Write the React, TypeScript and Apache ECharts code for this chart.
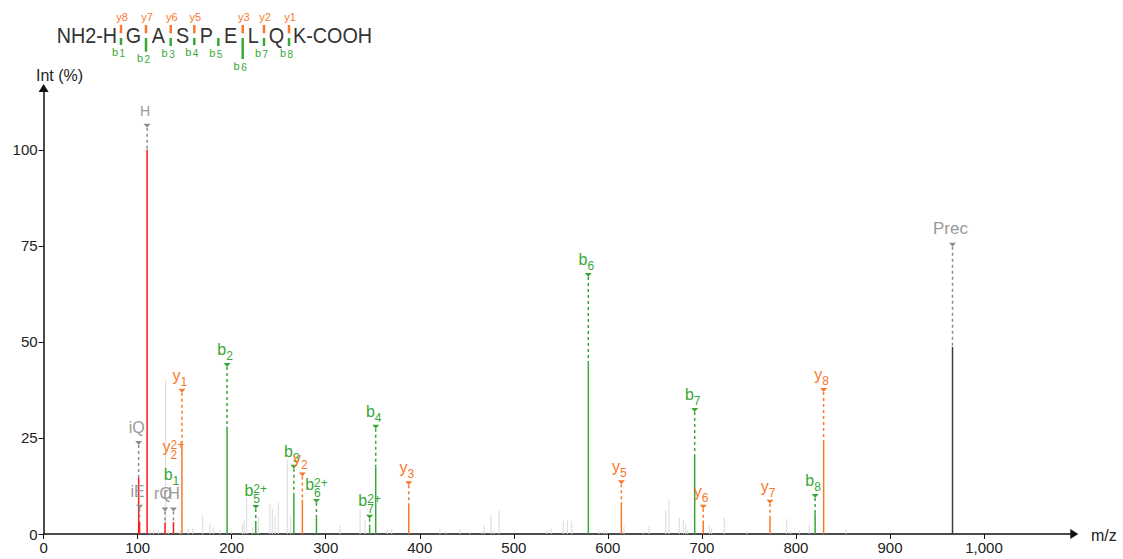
import { useEffect, useRef } from 'react';
import * as echarts from 'echarts';

const FONT = '"Liberation Sans", Arial, Helvetica, sans-serif';
const fnt = (s: number) => `${s}px ${FONT}`;

// ---- peptide sequence header ----
const residues = ['H', 'G', 'A', 'S', 'P', 'E', 'L', 'Q', 'K'];
const nTerm = 'NH2-';
const cTerm = '-COOH';
const seqBLabels = ['1', '2', '3', '4', '5', '6', '7', '8'];
const seqYLabels = ['8', '7', '6', '5', '', '3', '2', '1'];

// ---- axes ----
const xTicks = [0, 100, 200, 300, 400, 500, 600, 700, 800, 900, 1000];
const yTicks = [0, 25, 50, 75, 100];
const xMax = 1096;
const yMax = 116.1;

// ---- unassigned (grey) peaks ----
const noiseMz = [113.1, 116.7, 122.0, 129.8, 132.6, 145.0, 153.9, 158.6, 169.2, 176.9, 180.5, 187.6, 200.0, 211.3, 213.1, 216.0, 222.4, 228.3, 240.7, 243.2, 246.1, 249.6, 259.1, 262.8, 315.2, 336.5, 341.8, 365.5, 370.2, 421.5, 427.9, 442.8, 453.4, 465.9, 468.6, 475.8, 478.9, 484.3, 535.0, 539.6, 552.6, 556.9, 561.6, 590.6, 595.9, 598.8, 617.2, 637.7, 643.8, 661.5, 665.0, 676.0, 680.2, 682.8, 684.9, 707.9, 710.4, 723.8, 747.7, 790.2, 794.4, 803.6, 814.2, 853.3];
const noiseInt = [1, 1, 1, 40, 1, 1, 1.5, 1.5, 4.8, 2.6, 1.7, 1, 1, 2.6, 3.5, 9.5, 1.7, 4.5, 8, 6.5, 4.9, 8.1, 19.3, 4.7, 2.3, 6.4, 3.6, 1, 1.3, 1.4, 0.7, 1.2, 0.5, 0.8, 2.3, 4.9, 0.9, 6.1, 1.1, 1.4, 3.4, 3.6, 3.4, 0.7, 1, 1, 2, 0.7, 2.1, 6.1, 8.7, 4.3, 3.6, 2.3, 1, 2, 1.5, 4.3, 0.7, 3.9, 0.7, 1, 2.3, 1.1];

// ---- matched peaks ----
const peakMz = [101.07, 102.05, 110.07, 129.10, 138.07, 147.11, 195.09, 225.60, 266.12, 275.17, 290.13, 346.67, 353.15, 388.26, 579.25, 614.35, 692.33, 701.38, 772.42, 820.39, 829.44, 966.50];
const peakInt = [14.6, 3.2, 100, 3.0, 3.1, 23.2, 27.9, 3.4, 10.6, 8.9, 4.3, 1.7, 17.2, 8.0, 44.5, 7.6, 20.6, 3.5, 4.3, 5.4, 23.7, 48.7];
const peakKind = ['imm', 'imm', 'imm', 'imm', 'imm', 'y', 'b', 'b', 'b', 'y', 'b', 'b', 'b', 'y', 'b', 'y', 'b', 'y', 'y', 'b', 'y', 'prec'];

// ---- annotations ----
const annMz = [101.07, 102.05, 110.07, 129.10, 138.07, 138.07, 138.07, 147.11, 195.09, 225.60, 266.12, 275.17, 290.13, 346.67, 353.15, 388.26, 579.25, 614.35, 692.33, 701.38, 772.42, 820.39, 829.44, 966.50];
const annMain = ['iQ', 'iE', 'H', 'rQ', 'rH', 'b', 'y', 'y', 'b', 'b', 'b', 'y', 'b', 'b', 'b', 'y', 'b', 'y', 'b', 'y', 'y', 'b', 'y', 'Prec'];
const annSub = ['', '', '', '', '', '1', '2', '1', '2', '5', '3', '2', '6', '7', '4', '3', '6', '5', '7', '6', '7', '8', '8', ''];
const annSup = ['', '', '', '', '', '', '2+', '', '', '2+', '', '', '2+', '2+', '', '', '', '', '', '', '', '', '', ''];
const annLevel = [23.7, 7.1, 106.3, 6.4, 6.4, 11.5, 18.5, 37.3, 44, 7.0, 17.5, 15.5, 8.6, 4.5, 27.9, 13.2, 67.4, 13.5, 32.3, 7.1, 8.4, 9.9, 37.5, 75.3];
const annKind = ['g', 'g', 'g', 'g', 'g', 'b', 'y', 'y', 'b', 'b', 'b', 'y', 'b', 'b', 'b', 'y', 'b', 'y', 'b', 'y', 'y', 'b', 'y', 'g'];
const annMarker = [1, 1, 1, 1, 1, 0, 0, 1, 1, 1, 1, 1, 1, 1, 1, 1, 1, 1, 1, 1, 1, 1, 1, 1];

const GREEN = '#37a837';
const ORANGE = '#f9782b';
const RED = '#ff1a1a';
const GREY_LABEL = '#999999';
const PREC = '#3c3c3c';
const NOISE = '#d9d9d9';

const peakColor: Record<string, string> = { imm: RED, b: GREEN, y: ORANGE, prec: PREC };
const labelColor: Record<string, string> = { g: GREY_LABEL, b: GREEN, y: ORANGE };

let mctx: CanvasRenderingContext2D | null = null;
function tw(t: string, size: number): number {
  if (!t) return 0;
  if (!mctx) mctx = document.createElement('canvas').getContext('2d');
  if (!mctx) return t.length * size * 0.55;
  mctx.font = fnt(size);
  return mctx.measureText(t).width;
}

function txt(text: string, x: number, y: number, size: number, fill: string, align = 'left') {
  return {
    type: 'text',
    silent: true,
    style: {
      text, x, y, font: fnt(size), fill,
      align, textAlign: align, verticalAlign: 'middle', textVerticalAlign: 'middle',
    },
  };
}

// header layout
const seqMarkX = [121, 146, 170.7, 194.3, 218.3, 242.7, 264, 289];
const seqBTickEnd = [45, 51.7, 46, 45, 46, 59, 46, 46];

function headerGraphics() {
  const els: any[] = [];
  const resY = 34.8;
  const resStyle = (text: string, align: string) => ({
    text, font: fnt(22), fill: '#333333', textAlign: align, align, textVerticalAlign: 'middle', verticalAlign: 'middle',
  });
  els.push({ type: 'text', x: 56.7, y: resY, scaleX: 0.9, silent: true, style: resStyle(nTerm + residues[0], 'left') });
  for (let i = 1; i < residues.length - 1; i++) {
    const cx = (seqMarkX[i - 1] + seqMarkX[i]) / 2;
    els.push({ type: 'text', x: cx, y: resY, scaleX: 0.9, silent: true, style: resStyle(residues[i], 'center') });
  }
  els.push({ type: 'text', x: seqMarkX[7] + 4, y: resY, scaleX: 0.9, silent: true, style: resStyle(residues[8] + cTerm, 'left') });
  seqMarkX.forEach((m, i) => {
    if (seqYLabels[i]) {
      els.push({ type: 'line', silent: true, shape: { x1: m, y1: 25, x2: m, y2: 33.3 }, style: { stroke: ORANGE, lineWidth: 2.5 } });
      els.push({ type: 'text', x: m + 1, y: 17, silent: true, style: { text: 'y' + seqYLabels[i], font: fnt(11), fill: ORANGE, textAlign: 'center', align: 'center', textVerticalAlign: 'middle', verticalAlign: 'middle' } });
    }
    if (seqBLabels[i]) {
      const end = seqBTickEnd[i];
      els.push({ type: 'line', silent: true, shape: { x1: m, y1: 38, x2: m, y2: end }, style: { stroke: GREEN, lineWidth: 2.5 } });
      const ly = end + 6.5;
      els.push({ type: 'text', x: m - 3, y: ly, silent: true, style: { text: 'b', font: fnt(11), fill: GREEN, textAlign: 'right', align: 'right', textVerticalAlign: 'middle', verticalAlign: 'middle' } });
      els.push({ type: 'text', x: m - 1.5, y: ly + 1.5, silent: true, style: { text: seqBLabels[i], font: fnt(10), fill: GREEN, textAlign: 'left', align: 'left', textVerticalAlign: 'middle', verticalAlign: 'middle' } });
    }
  });
  // axis names
  els.push({ type: 'text', x: 36, y: 75, silent: true, style: { text: 'Int (%)', font: fnt(16), fill: '#222222', textAlign: 'left', align: 'left', textVerticalAlign: 'middle', verticalAlign: 'middle' } });
  els.push({ type: 'text', x: 1091, y: 535, silent: true, style: { text: 'm/z', font: fnt(16), fill: '#222222', textAlign: 'left', align: 'left', textVerticalAlign: 'middle', verticalAlign: 'middle' } });
  return els;
}

function buildOption(): any {
  return {
    animation: false,
    backgroundColor: '#ffffff',
    grid: { left: 43.6, right: 48.7, top: 88, bottom: 25, containLabel: false },
    xAxis: {
      type: 'value', min: 0, max: xMax, interval: 100,
      splitLine: { show: false },
      axisLine: { show: true, onZero: false, lineStyle: { color: '#111111', width: 1.5 }, symbol: ['none', 'triangle'], symbolSize: [10, 8] },
      axisTick: { show: true, length: 5, customValues: xTicks, lineStyle: { color: '#111111', width: 1 } },
      axisLabel: {
        customValues: xTicks, margin: 6, fontSize: 15, fontFamily: FONT, color: '#222222',
        formatter: (v: number) => (v > 1000 ? '' : String(v).replace(/\B(?=(\d{3})+(?!\d))/g, ',')),
      },
    },
    yAxis: {
      type: 'value', min: 0, max: yMax, interval: 25,
      splitLine: { show: false },
      axisLine: { show: true, onZero: false, lineStyle: { color: '#111111', width: 1.5 }, symbol: ['none', 'triangle'], symbolSize: [10, 8] },
      axisTick: { show: true, length: 5, customValues: yTicks, lineStyle: { color: '#111111', width: 1 } },
      axisLabel: {
        customValues: yTicks, margin: 6, fontSize: 15, fontFamily: FONT, color: '#222222',
        formatter: (v: number) => (v > 100 ? '' : String(v)),
      },
    },
    graphic: headerGraphics(),
    series: [
      {
        type: 'custom', silent: true, clip: false,
        data: noiseMz.map((m, i) => [m, noiseInt[i]]),
        encode: { x: 0, y: 1 },
        renderItem: (_p: any, api: any) => {
          const a = api.coord([api.value(0), 0]);
          const b = api.coord([api.value(0), api.value(1)]);
          return { type: 'line', shape: { x1: a[0], y1: a[1], x2: b[0], y2: b[1] }, style: { stroke: NOISE, lineWidth: 1 } };
        },
      },
      {
        type: 'custom', silent: true, clip: false,
        data: peakMz.map((m, i) => [m, peakInt[i]]),
        encode: { x: 0, y: 1 },
        renderItem: (p: any, api: any) => {
          const a = api.coord([api.value(0), 0]);
          const b = api.coord([api.value(0), api.value(1)]);
          return { type: 'line', shape: { x1: a[0], y1: a[1], x2: b[0], y2: b[1] }, style: { stroke: peakColor[peakKind[p.dataIndex]], lineWidth: 1.5 } };
        },
      },
      {
        type: 'custom', silent: true, clip: false,
        data: annMz.map((m, i) => [m, annLevel[i]]),
        encode: { x: 0, y: 1 },
        renderItem: (p: any, api: any) => {
          const i = p.dataIndex;
          const mz = annMz[i];
          const tri = api.coord([mz, annLevel[i]]);
          const x = tri[0];
          const yT = tri[1];
          const pk = peakMz.indexOf(mz);
          const top = api.coord([mz, pk >= 0 ? peakInt[pk] : 0])[1];
          const col = labelColor[annKind[i]];
          const children: any[] = [];
          if (annMarker[i]) {
            const dashCol = annKind[i] === 'g' ? '#8c8c8c' : col;
            children.push({ type: 'line', shape: { x1: x, y1: yT + 2, x2: x, y2: top }, style: { stroke: dashCol, lineWidth: 1.5, lineDash: [3, 3] } });
            children.push({ type: 'polygon', shape: { points: [[x - 3.5, yT - 2], [x + 3.5, yT - 2], [x, yT + 2]] }, style: { fill: dashCol } });
          }
          const main = annMain[i];
          const sub = annSub[i];
          const sup = annSup[i];
          const ms = main === 'H' ? 14 : main === 'Prec' ? 17 : 16;
          const wM = tw(main, ms);
          const wS = tw(sub, 12);
          const wP = tw(sup, 12);
          const total = wM + Math.max(wS, wP);
          const left = x - total / 2 + (sup ? 0 : -2);
          const mainBase = yT - (sup ? 11 : 10);
          children.push(txt(main, left, mainBase - 0.3465 * ms, ms, col));
          if (sub) children.push(txt(sub, left + wM, yT - (sup ? 4 : 5) - 0.3465 * 12, 12, col));
          if (sup) children.push(txt(sup, left + wM, yT - 14 - 0.3465 * 12, 12, col));
          return { type: 'group', children };
        },
      },
    ],
  };
}

export default function App() {
  const ref = useRef<HTMLDivElement>(null);
  useEffect(() => {
    if (!ref.current) return;
    const chart = echarts.init(ref.current, null, { renderer: 'svg' });
    chart.setOption(buildOption());
    return () => chart.dispose();
  }, []);
  return (
    <div
      ref={ref}
      style={{ position: 'fixed', left: 0, top: 0, width: 1123, height: 559, background: '#ffffff' }}
    />
  );
}
